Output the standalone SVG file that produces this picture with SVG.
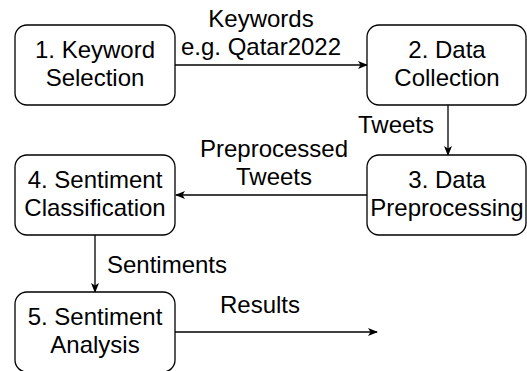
<svg xmlns="http://www.w3.org/2000/svg" width="527" height="371" viewBox="0 0 527 371">
<style>
.box{fill:#fff;stroke:#000;stroke-width:1.3}
.t{font-family:"Liberation Sans",Arial,Helvetica,sans-serif;font-size:24px;fill:#000;text-anchor:middle}
.e{stroke:#000;stroke-width:1.3;fill:none;marker-end:url(#ah)}
</style>
<defs>
<marker id="ah" viewBox="0 0 10 10" refX="9" refY="5" markerWidth="10" markerHeight="10" markerUnits="userSpaceOnUse" orient="auto">
<path d="M0,1 L10,5 L0,9 L2.5,5 Z" fill="#000"/>
</marker>
</defs>
<rect width="527" height="371" fill="#fff"/>
<g id="connectors">
<path class="e" d="M175,65 H367"/>
<path class="e" d="M448,105 V155"/>
<path class="e" d="M367,195 H176"/>
<path class="e" d="M95,235 V292"/>
<path class="e" d="M175,332 H377"/>
<text class="t" x="261" y="27">Keywords</text>
<text class="t" x="261" y="55">e.g. Qatar2022</text>
<text class="t" x="396" y="133">Tweets</text>
<text class="t" x="274" y="157">Preprocessed</text>
<text class="t" x="274" y="185">Tweets</text>
<text class="t" x="167" y="273">Sentiments</text>
<text class="t" x="260" y="313">Results</text>
</g>
<g id="n1">
<rect class="box" x="15" y="25" width="160" height="80" rx="12"/>
<text class="t" x="95" y="58">1. Keyword</text>
<text class="t" x="95" y="86">Selection</text>
</g>
<g id="n2">
<rect class="box" x="367" y="25" width="159" height="80" rx="12"/>
<text class="t" x="447" y="58">2. Data</text>
<text class="t" x="447" y="86">Collection</text>
</g>
<g id="n3">
<rect class="box" x="367" y="155" width="159" height="80" rx="12"/>
<text class="t" x="447" y="188">3. Data</text>
<text class="t" x="447" y="216">Preprocessing</text>
</g>
<g id="n4">
<rect class="box" x="15" y="155" width="160" height="80" rx="12"/>
<text class="t" x="95" y="188">4. Sentiment</text>
<text class="t" x="95" y="216">Classification</text>
</g>
<g id="n5">
<rect class="box" x="15" y="292" width="160" height="80" rx="12"/>
<text class="t" x="95" y="325">5. Sentiment</text>
<text class="t" x="95" y="353">Analysis</text>
</g>
</svg>
